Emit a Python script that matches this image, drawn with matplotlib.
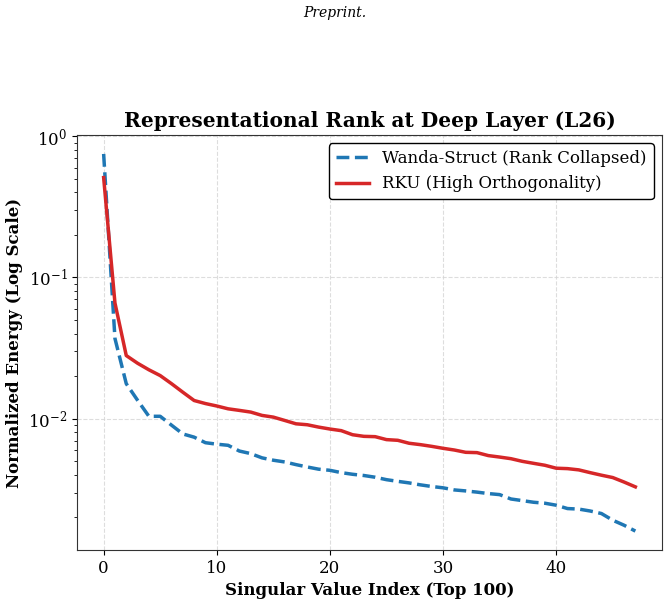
import matplotlib
matplotlib.use("Agg")
import matplotlib.pyplot as plt
import numpy as np

# singular value index
idx = np.arange(48)

wanda = [0.75, 0.037, 0.0177, 0.0135, 0.0104, 0.0104, 0.009, 0.0078, 0.0074, 0.00676,
         0.0066, 0.00648, 0.0059, 0.00566, 0.00528, 0.00508, 0.00494, 0.00473, 0.00455, 0.00439,
         0.00431, 0.00415, 0.00404, 0.00396, 0.00385, 0.0037, 0.0036, 0.00351, 0.0034, 0.00331,
         0.00324, 0.00313, 0.00308, 0.00302, 0.00295, 0.0029, 0.0027, 0.00263, 0.00256, 0.00252,
         0.00244, 0.00231, 0.00229, 0.00222, 0.00213, 0.00191, 0.00176, 0.0016]

rku = [0.51, 0.066, 0.028, 0.0247, 0.0222, 0.0202, 0.0177, 0.0154, 0.01345, 0.0128,
       0.0123, 0.01175, 0.01145, 0.01114, 0.01055, 0.01026, 0.00972, 0.0092, 0.00906, 0.00872,
       0.00845, 0.00823, 0.0077, 0.0075, 0.00746, 0.00711, 0.00703, 0.0067, 0.00655, 0.00637,
       0.00617, 0.006, 0.00578, 0.00575, 0.00548, 0.00535, 0.00521, 0.00499, 0.00483, 0.00468,
       0.00446, 0.00443, 0.00434, 0.00415, 0.00398, 0.00383, 0.00356, 0.00329]

plt.rcParams['font.family'] = 'DejaVu Serif'

fig = plt.figure(figsize=(6.7, 6.03), dpi=100)
fig.text(0.5, 0.978, "Preprint.", ha='center', va='center', fontsize=10, style='italic')

ax = fig.add_axes([0.115, 0.088, 0.873, 0.688])
ax.plot(idx, wanda, '--', color='#1f77b4', linewidth=2.5, label='Wanda-Struct (Rank Collapsed)')
ax.plot(idx, rku, '-', color='#d62728', linewidth=2.5, label='RKU (High Orthogonality)')
ax.set_yscale('log')

ax.set_title("Representational Rank at Deep Layer (L26)", fontsize=14.5, fontweight='bold', pad=6)
ax.set_xlabel("Singular Value Index (Top 100)", fontsize=12, fontweight='bold')
ax.set_ylabel("Normalized Energy (Log Scale)", fontsize=12, fontweight='bold')
ax.tick_params(labelsize=12)
ax.grid(True, which='major', linestyle='--', color='#d5d5d5', alpha=0.8)
for s in ax.spines.values():
    s.set_color('#333333')

leg = ax.legend(loc='upper right', fontsize=12, edgecolor='black', framealpha=1)
leg.get_frame().set_linewidth(1.0)

fig.savefig("out.png", dpi=100)
